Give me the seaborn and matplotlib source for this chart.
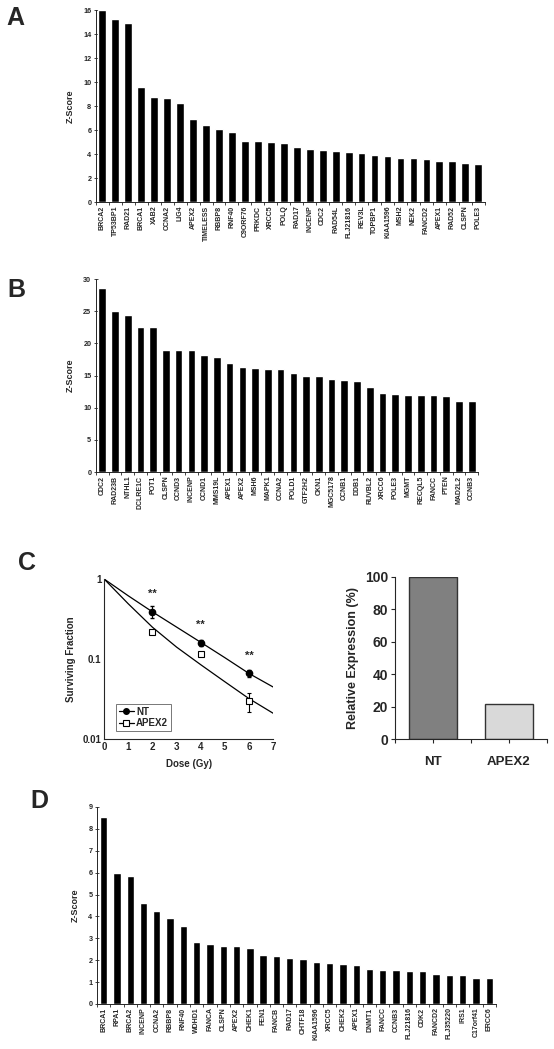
import numpy as np
import matplotlib
matplotlib.use("Agg")
import matplotlib.pyplot as plt
from matplotlib.lines import Line2D
import seaborn as sns

# ---- data ----
genes_a = ["BRCA2", "TP53BP1", "RAD21", "BRCA1", "XAB2", "CCNA2", "LIG4", "APEX2", "TIMELESS", "RBBP8",
           "RNF40", "C9ORF76", "PRKDC", "XRCC5", "POLQ", "RAD17", "INCENP", "CDC2", "RAD54L", "FLJ21816",
           "REV3L", "TOPBP1", "KIAA1596", "MSH2", "NEK2", "FANCD2", "APEX1", "RAD52", "CLSPN", "POLE3"]
z_a = [16.0, 15.28, 14.9, 9.6, 8.74, 8.71, 8.29, 6.9, 6.46, 6.09,
       5.84, 5.12, 5.12, 4.98, 4.95, 4.62, 4.45, 4.34, 4.23, 4.17,
       4.06, 3.9, 3.84, 3.67, 3.67, 3.59, 3.45, 3.39, 3.23, 3.2]

genes_b = ["CDC2", "RAD23B", "NTHL1", "DCLRE1C", "POT1", "CLSPN", "CCND3", "INCENP", "CCND1", "MMS19L",
           "APEX1", "APEX2", "MSH6", "MAPK1", "CCNA2", "POLD1", "GTF2H2", "CKN1", "MGC5178", "CCNB1",
           "DDB1", "RUVBL2", "XRCC6", "POLE3", "MGMT", "RECQL5", "FANCC", "PTEN", "MAD2L2", "CCNB3"]
z_b = [28.6, 25.0, 24.4, 22.6, 22.5, 19.04, 19.0, 18.9, 18.15, 17.9,
       16.97, 16.4, 16.1, 16.0, 15.98, 15.4, 15.0, 14.9, 14.4, 14.33,
       14.2, 13.2, 12.3, 12.15, 12.05, 12.05, 11.9, 11.85, 11.1, 11.07]

genes_d = ["BRCA1", "RPA1", "BRCA2", "INCENP", "CCNA2", "RBBP8", "RNF40", "WDHD1", "FANCA", "CLSPN",
           "APEX2", "CHEK1", "FEN1", "FANCB", "RAD17", "CHTF18", "KIAA1596", "XRCC5", "CHEK2", "APEX1",
           "DNMT1", "FANCC", "CCNB3", "FLJ21816", "CDK2", "FANCD2", "FLJ35220", "IRS1", "C17orf41", "ERCC6"]
z_d = [8.53, 5.99, 5.83, 4.6, 4.25, 3.93, 3.57, 2.81, 2.73, 2.67,
       2.66, 2.55, 2.25, 2.2, 2.08, 2.06, 1.94, 1.88, 1.85, 1.76,
       1.58, 1.55, 1.55, 1.5, 1.49, 1.38, 1.34, 1.34, 1.21, 1.2]

# clonogenic survival (panel C, left)
dose_pts = [2, 4, 6]
nt_sf = [0.39, 0.16, 0.066]
nt_err = [0.065, 0.013, 0.006]
apex2_sf = [0.22, 0.114, 0.030]
apex2_err = [0.0, 0.0, 0.008]
dose_fit = [0, 1, 2, 3, 4, 5, 6, 7]
nt_fit = [1.0, 0.617, 0.389, 0.251, 0.162, 0.104, 0.066, 0.0447]
apex2_fit = [1.0, 0.49, 0.25, 0.141, 0.085, 0.052, 0.032, 0.021]

# knockdown (panel C, right)
kd_groups = ["NT", "APEX2"]
kd_expr = [100, 21.5]
kd_colors = ["#808080", "#d9d9d9"]

sns.set_style("ticks")
plt.rcParams["font.family"] = ["Liberation Sans", "DejaVu Sans"]
plt.rcParams["font.weight"] = "bold"

fig = plt.figure(figsize=(5.54, 10.49), dpi=100)


def zscore_panel(rect, genes, vals, ymax, ystep, bar_w):
    ax = fig.add_axes(rect)
    sns.barplot(x=genes, y=vals, color="black", width=bar_w, saturation=1, ax=ax)
    ax.set_xlim(-0.5, len(genes) - 0.5)
    ax.set_ylim(0, ymax)
    ax.set_yticks(np.arange(0, ymax + 0.01, ystep))
    ax.set_xticks(np.arange(-0.5, len(genes), 1), minor=True)
    ax.tick_params(axis="x", which="major", length=0, pad=2.5, labelsize=5, rotation=90)
    ax.tick_params(axis="x", which="minor", length=2.5, width=0.6, direction="out")
    ax.tick_params(axis="y", length=2.5, width=0.6, direction="inout", labelsize=5.2, pad=2)
    for lab in ax.get_xticklabels() + ax.get_yticklabels():
        lab.set_fontweight("bold")
    ax.set_ylabel("Z-Score", fontsize=6.5, fontweight="bold", labelpad=6)
    ax.set_xlabel("")
    sns.despine(ax=ax)
    for s in ["left", "bottom"]:
        ax.spines[s].set_linewidth(0.7)
    return ax


zscore_panel([0.173, 0.8074, 0.702, 0.183], genes_a, z_a, 16, 2, 0.6)
zscore_panel([0.173, 0.550, 0.690, 0.184], genes_b, z_b, 30, 5, 0.6)
zscore_panel([0.175, 0.0429, 0.720, 0.1878], genes_d, z_d, 9, 1, 0.55)

# ---- panel C left: survival curves ----
axc = fig.add_axes([0.188, 0.2955, 0.305, 0.1525])
sns.lineplot(x=dose_fit, y=nt_fit, color="black", lw=0.9, ax=axc)
sns.lineplot(x=dose_fit, y=apex2_fit, color="black", lw=0.9, ax=axc)
axc.errorbar(dose_pts, nt_sf, yerr=nt_err, fmt="o", color="black", ms=4.5,
             capsize=1.2, elinewidth=0.8)
axc.errorbar(dose_pts, apex2_sf, yerr=apex2_err, fmt="s", color="black", mfc="white",
             ms=5, mew=0.8, capsize=1.2, elinewidth=0.8)
axc.set_yscale("log")
axc.set_ylim(0.01, 1)
axc.set_xlim(0, 7)
axc.set_xticks(range(0, 8))
axc.set_yticks([0.01, 0.1, 1])
axc.set_yticklabels(["0.01", "0.1", "1"])
axc.minorticks_off()
axc.tick_params(length=0, labelsize=7, pad=2)
for lab in axc.get_xticklabels() + axc.get_yticklabels():
    lab.set_fontweight("bold")
for d, v in zip(dose_pts, nt_sf):
    axc.text(d, v * 1.45, "**", ha="center", va="bottom", fontsize=8, fontweight="bold")
axc.set_xlabel("Dose (Gy)", fontsize=7, fontweight="bold", labelpad=5)
axc.set_ylabel("Surviving Fraction", fontsize=7, fontweight="bold", labelpad=5)
handles = [Line2D([], [], color="black", lw=0.9, marker="o", ms=4),
           Line2D([], [], color="black", lw=0.9, marker="s", ms=4.5, mfc="white", mew=0.8)]
leg = axc.legend(handles, kd_groups, loc="lower left", fontsize=7, frameon=True, fancybox=False,
                 edgecolor="#555555", handlelength=1.6, handletextpad=0.2, borderpad=0.3,
                 labelspacing=0.15, bbox_to_anchor=(0.04, 0.02))
leg.get_frame().set_linewidth(0.7)
for t in leg.get_texts():
    t.set_fontweight("bold")
sns.despine(ax=axc)

# ---- panel C right: relative expression ----
axr = fig.add_axes([0.713, 0.2955, 0.274, 0.1545])
sns.barplot(x=kd_groups, y=kd_expr, hue=kd_groups, palette=kd_colors, width=0.63,
            saturation=1, edgecolor="#333333", linewidth=1.0, legend=False, ax=axr)
axr.set_xlim(-0.5, 1.5)
axr.set_ylim(0, 100)
axr.set_yticks(range(0, 101, 20))
axr.set_xticks([-0.5, 0.5, 1.5], minor=True)
axr.tick_params(axis="both", which="both", length=3, width=0.8)
axr.tick_params(axis="y", labelsize=10, pad=2)
axr.tick_params(axis="x", labelsize=9.5, pad=9)
for lab in axr.get_xticklabels() + axr.get_yticklabels():
    lab.set_fontweight("bold")
axr.set_ylabel("Relative Expression (%)", fontsize=9, fontweight="bold", labelpad=4)
axr.set_xlabel("")
sns.despine(ax=axr)

# ---- panel letters ----
for letter, x, y in [("A", 0.012, 0.971), ("B", 0.014, 0.712), ("C", 0.033, 0.452), ("D", 0.054, 0.225)]:
    fig.text(x, y, letter, fontsize=18, fontweight="bold", ha="left", va="bottom")

fig.savefig("out.png", dpi=100)
